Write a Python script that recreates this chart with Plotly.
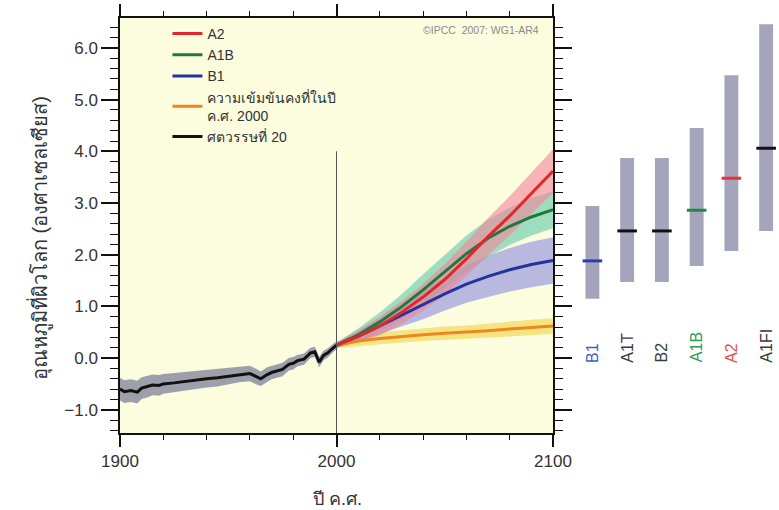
import plotly.graph_objects as go

# ---------------- data ----------------
years20 = [1900, 1902, 1905, 1908, 1910, 1913, 1915, 1918, 1920, 1925, 1930, 1935,
           1940, 1945, 1950, 1955, 1960, 1963, 1965, 1968, 1970, 1975, 1978, 1980,
           1982, 1985, 1988, 1990, 1992, 1994, 1996, 1998, 2000]
temp20 = [-0.60, -0.65, -0.63, -0.66, -0.58, -0.55, -0.52, -0.53, -0.50, -0.48, -0.45, -0.42,
          -0.40, -0.38, -0.35, -0.32, -0.30, -0.36, -0.40, -0.32, -0.28, -0.22, -0.12, -0.10,
          -0.05, -0.02, 0.10, 0.12, -0.08, 0.05, 0.10, 0.18, 0.25]
sd20 = [0.22, 0.22, 0.22, 0.22, 0.21, 0.21, 0.20, 0.20, 0.19, 0.19, 0.18, 0.18,
        0.17, 0.17, 0.16, 0.15, 0.15, 0.15, 0.14, 0.14, 0.13, 0.13, 0.12, 0.12,
        0.11, 0.11, 0.10, 0.10, 0.10, 0.09, 0.09, 0.08, 0.08]

years_fut = [2000, 2010, 2020, 2030, 2040, 2050, 2060, 2070, 2080, 2090, 2100]
a2 = [0.25, 0.42, 0.62, 0.88, 1.18, 1.52, 1.92, 2.35, 2.75, 3.18, 3.62]
a2_sd = [0.05, 0.12, 0.18, 0.22, 0.26, 0.30, 0.33, 0.36, 0.38, 0.40, 0.42]
a1b = [0.25, 0.45, 0.70, 0.99, 1.32, 1.67, 2.02, 2.32, 2.55, 2.73, 2.87]
a1b_sd = [0.05, 0.12, 0.18, 0.24, 0.30, 0.33, 0.35, 0.36, 0.36, 0.36, 0.36]
b1 = [0.25, 0.42, 0.62, 0.83, 1.03, 1.24, 1.43, 1.58, 1.71, 1.81, 1.89]
b1_sd = [0.05, 0.10, 0.15, 0.22, 0.28, 0.32, 0.36, 0.40, 0.42, 0.44, 0.45]
const = [0.25, 0.33, 0.38, 0.42, 0.45, 0.48, 0.50, 0.53, 0.56, 0.59, 0.62]
const_sd = [0.05, 0.10, 0.12, 0.12, 0.12, 0.13, 0.13, 0.14, 0.14, 0.15, 0.15]

scenarios = ['B1', 'A1T', 'B2', 'A1B', 'A2', 'A1FI']
range_low = [1.15, 1.47, 1.47, 1.78, 2.07, 2.46]
range_high = [2.94, 3.87, 3.87, 4.45, 5.47, 6.46]
best_est = [1.88, 2.46, 2.46, 2.86, 3.48, 4.06]
best_colors = ['#2b3fa8', '#111111', '#111111', '#1f8a45', '#e8303a', '#111111']
label_colors = ['#3d5fc4', '#3a3a3a', '#3a3a3a', '#2f9a5c', '#ec4b4b', '#3a3a3a']

names = ['A2', 'A1B', 'B1', 'ความเข้มข้นคงที่ในปี<br>ค.ศ. 2000', 'ศตวรรษที่ 20']

FONT = 'Liberation Sans, Arial, sans-serif'
TXT = '#333333'

fig = go.Figure()


def band(x, y, sd, color, opacity):
    up = [a + b for a, b in zip(y, sd)]
    lo = [a - b for a, b in zip(y, sd)]
    fig.add_trace(go.Scatter(x=list(x) + list(x)[::-1], y=up + lo[::-1], fill='toself',
                             fillcolor=color, opacity=opacity, line=dict(width=0),
                             mode='lines', showlegend=False, hoverinfo='skip'))


band(years20, temp20, sd20, '#7d8198', 0.75)
band(years_fut, const, const_sd, '#f2dc5a', 0.7)
band(years_fut, b1, b1_sd, '#8c8ce0', 0.6)
band(years_fut, a1b, a1b_sd, '#5fcaa8', 0.6)
band(years_fut, a2, a2_sd, '#f2849a', 0.6)

series = [
    (years_fut, a2, '#e3262b', names[0]),
    (years_fut, a1b, '#1e7a3c', names[1]),
    (years_fut, b1, '#25339c', names[2]),
    (years_fut, const, '#f0861c', names[3]),
    (years20, temp20, '#111111', names[4]),
]
draw_order = [3, 2, 1, 0, 4]
for i in draw_order:
    x, y, c, n = series[i]
    fig.add_trace(go.Scatter(x=x, y=y, mode='lines', line=dict(color=c, width=3),
                             name=n, legendrank=i + 1))

# right panel: likely ranges for 2090-2099
xpos = list(range(len(scenarios)))
fig.add_trace(go.Bar(x=xpos, y=[h - l for h, l in zip(range_high, range_low)], base=range_low,
                     width=0.4, marker=dict(color='#a4a5bd', line=dict(width=0)),
                     xaxis='x2', yaxis='y', showlegend=False))
fig.add_trace(go.Scatter(x=xpos, y=best_est, mode='markers', xaxis='x2', yaxis='y',
                         marker=dict(symbol='line-ew', size=14,
                                     line=dict(color=best_colors, width=3)),
                         showlegend=False))

for i, s in enumerate(scenarios):
    fig.add_annotation(x=i, xref='x2', y=0.165, yref='paper', text=s, textangle=-90,
                       showarrow=False, yanchor='bottom', xanchor='center',
                       font=dict(family=FONT, size=16, color=label_colors[i]))

# background of the main panel and the 2000 line
fig.add_shape(type='rect', xref='x domain', yref='y domain', x0=0, x1=1, y0=0, y1=1,
              fillcolor='#fcfcdf', line=dict(width=0), layer='below')
fig.add_shape(type='line', xref='x', yref='y', x0=2000, x1=2000, y0=-1.45, y1=4.0,
              line=dict(color='#555555', width=1))

fig.add_annotation(text='©IPCC  2007: WG1-AR4', xref='paper', yref='paper',
                   x=(541 - 120) / 659, y=0.99, xanchor='right', yanchor='top',
                   showarrow=False, font=dict(family=FONT, size=10.5, color='#8a8a8a'))
fig.add_annotation(text='อุณหภูมิที่ผิวโลก (องศาเซลเซียส)', xref='paper', yref='paper',
                   x=(40 - 120) / 659, y=0.47, textangle=-90, showarrow=False,
                   xanchor='center', yanchor='middle',
                   font=dict(family=FONT, size=20, color=TXT))
fig.add_annotation(text='ปี ค.ศ.', xref='paper', yref='paper',
                   x=(337 - 120) / 659, y=-(499 - 433) / 415, showarrow=False,
                   xanchor='center', yanchor='middle',
                   font=dict(family=FONT, size=18, color=TXT))

fig.update_layout(
    width=779, height=510,
    margin=dict(l=120, r=0, t=18, b=77, autoexpand=False),
    paper_bgcolor='white', plot_bgcolor='rgba(0,0,0,0)',
    font=dict(family=FONT, color=TXT),
    xaxis=dict(domain=[0, 433 / 659], range=[1900, 2100], tickvals=[1900, 2000, 2100],
               ticks='outside', ticklen=12, tickwidth=1.5, tickcolor='#111',
               minor=dict(dtick=20, ticklen=5, tickwidth=1.2, tickcolor='#111', ticks='outside'),
               showline=True, linecolor='#111', linewidth=1.5, mirror='ticks',
               showgrid=False, zeroline=False, tickfont=dict(size=17, color=TXT),
               automargin=False),
    yaxis=dict(range=[-1.45, 6.58], dtick=1, tickformat='.1f',
               ticks='outside', ticklen=17, tickwidth=1.5, tickcolor='#111',
               minor=dict(dtick=0.2, ticklen=8, tickwidth=1.2, tickcolor='#111', ticks='outside'),
               showline=True, linecolor='#111', linewidth=1.5, mirror='ticks',
               showgrid=False, zeroline=False, tickfont=dict(size=17, color=TXT),
               automargin=False),
    xaxis2=dict(domain=[(575 - 120) / 659, 1.0], range=[-0.5, 5.37], anchor='y',
                visible=False, automargin=False),
    legend=dict(x=0.072, y=1.0, xanchor='left', yanchor='top', bgcolor='rgba(0,0,0,0)',
                font=dict(family=FONT, size=14, color=TXT), tracegroupgap=0,
                traceorder='normal'),
    showlegend=True,
)

fig.write_html('out.html', config={'displayModeBar': False},
               post_script="document.body.style.margin='0';document.body.style.overflow='hidden';")
